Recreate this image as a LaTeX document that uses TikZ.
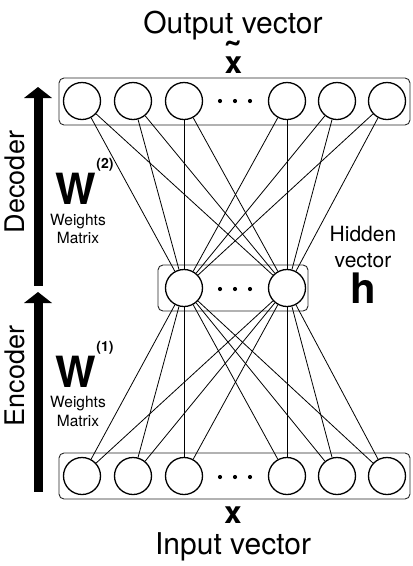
\documentclass[tikz,border=0pt]{standalone}
\usepackage{fontspec}
\setmainfont{TeX Gyre Heros}
\begin{document}
\begin{tikzpicture}[x=1pt,y=-1pt,
  neuron/.style={circle,draw,line width=1.3pt,fill=white,minimum size=37pt,inner sep=0pt},
  layerbox/.style={draw=black!85,line width=0.9pt,rounded corners=5pt},
  link/.style={line width=0.8pt},
  vdot/.style={circle,fill,minimum size=4.2pt,inner sep=0pt},
  bigarrow/.style={fill=black},
  lbl/.style={inner sep=0pt,anchor=base},
  sidelbl/.style={inner sep=0pt,rotate=90,font=\fontsize{27}{30}\selectfont},
  wlbl/.style={inner sep=0pt,anchor=base,font=\fontsize{43}{45}\selectfont\bfseries},
  suplbl/.style={inner sep=0pt,anchor=base,font=\fontsize{14}{16}\selectfont\bfseries},
  smalllbl/.style={inner sep=0pt,anchor=base,font=\fontsize{15.5}{17}\selectfont}]
\useasboundingbox (0,0) rectangle (413,566);

% layer boxes
\draw[layerbox] (59,78) rectangle (410,125);
\draw[layerbox] (158,265) rectangle (308,311);
\draw[layerbox] (59,453) rectangle (410,499);

% neurons
\foreach \i/\xx in {1/82,2/133,3/184,4/287,5/337,6/387}{
  \node[neuron] (t\i) at (\xx,101) {};
  \node[neuron] (b\i) at (\xx,476) {};
}
\node[neuron] (h1) at (184,288) {};
\node[neuron] (h2) at (287,288) {};

% dots
\foreach \j/\xx in {1/220,2/235,3/250}{
  \node[vdot] (td\j) at (\xx,101) {};
  \node[vdot] (hd\j) at (\xx,289) {};
  \node[vdot] (bd\j) at (\xx,477) {};
}

% connections
\foreach \h in {1,2}{
  \foreach \i in {1,...,6}{
    \draw[link] (h\h) -- (t\i);
    \draw[link] (h\h) -- (b\i);
  }
}

% big arrows
\fill[bigarrow] (33.5,286) rectangle (42.5,97.5);
\fill[bigarrow] (24,98) -- (52,98) -- (38,87) -- cycle;
\fill[bigarrow] (33.5,492) rectangle (42.5,302.5);
\fill[bigarrow] (24,303) -- (52,303) -- (38,292) -- cycle;

\node[sidelbl] (dec) at (15,182) {Decoder};
\node[sidelbl] (enc) at (15,376) {Encoder};

% titles
\node[lbl,font=\fontsize{30}{32}\selectfont] (out) at (233,33) {Output vector};
\node[lbl,font=\fontsize{31}{32}\selectfont\bfseries] (xt) at (233.5,73)
  {\ooalign{x\cr\hidewidth\raisebox{3pt}{\fontsize{40}{42}\selectfont\char"02DC}\hidewidth\cr}};
\node[lbl,font=\fontsize{31}{32}\selectfont\bfseries] (xb) at (233,523) {x};
\node[lbl,font=\fontsize{30}{32}\selectfont] (inp) at (233,554) {Input vector};

% weights
\node[wlbl] (w2) at (76,204) {W};
\node[suplbl] (s2) at (105,168) {(2)};
\node[smalllbl] (wt2) at (78,225) {Weights};
\node[smalllbl] (mt2) at (78,243) {Matrix};

\node[wlbl] (w1) at (76,387) {W};
\node[suplbl] (s1) at (105,351) {(1)};
\node[smalllbl] (wt1) at (78,407) {Weights};
\node[smalllbl] (mt1) at (78,426) {Matrix};

% hidden
\node[lbl,font=\fontsize{21}{23}\selectfont] (hid) at (363,241) {Hidden};
\node[lbl,font=\fontsize{21}{23}\selectfont] (vec) at (363,267) {vector};
\node[lbl,font=\fontsize{42}{44}\selectfont\bfseries] (hl) at (363,303) {h};
\end{tikzpicture}
\end{document}
